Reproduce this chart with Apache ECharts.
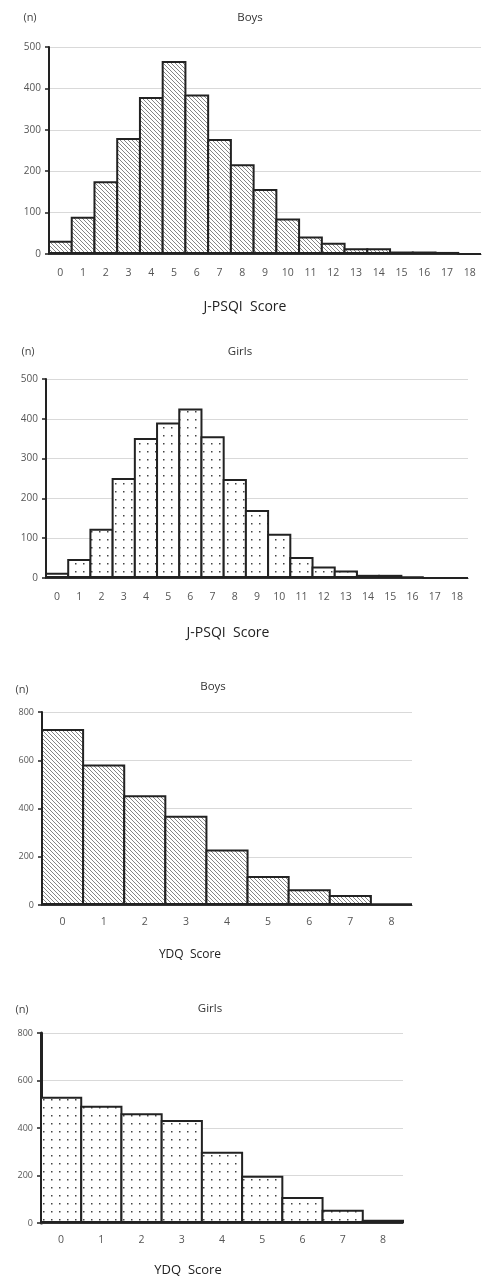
<!DOCTYPE html>
<html style='height: 100%'>
<head>
    <meta charset='utf-8'>
    <script src="https://cdn.jsdelivr.net/npm/echarts@6/dist/echarts.min.js"></script>
</head>
<body style='height: 100%; margin: 0; background: #fff'>
    <div id='container' style='width: 482px; height: 1280px'></div>
    <script type="text/javascript">

// J-PSQI score distribution (0..18)
var psqiScores = ['0','1','2','3','4','5','6','7','8','9','10','11','12','13','14','15','16','17','18'];
var psqiBoys  = [32, 90, 176, 280, 379, 466, 385, 278, 217, 157, 86, 42, 27, 14, 14, 6, 6, 5, 0];
var psqiGirls = [13, 48, 124, 251, 352, 391, 426, 356, 249, 171, 111, 53, 29, 19, 8, 8, 4, 0, 0];

// YDQ score distribution (0..8)
var ydqScores = ['0','1','2','3','4','5','6','7','8'];
var ydqBoys  = [730, 582, 455, 370, 230, 120, 65, 41, 7];
var ydqGirls = [532, 494, 462, 434, 300, 199, 110, 56, 14];

var titles = ['Boys', 'Girls', 'Boys', 'Girls'];
var xNames = ['J-PSQI  Score', 'J-PSQI  Score', 'YDQ  Score', 'YDQ  Score'];

// fill patterns
function hatch() {
    var c = document.createElement('canvas');
    c.width = 4; c.height = 4;
    var g = c.getContext('2d');
    g.fillStyle = '#fff'; g.fillRect(0, 0, 4, 4);
    g.strokeStyle = '#777'; g.lineWidth = 0.9;
    g.beginPath();
    g.moveTo(-1, -1); g.lineTo(5, 5);
    g.moveTo(-1, 3); g.lineTo(1, 5);
    g.moveTo(3, -1); g.lineTo(5, 1);
    g.stroke();
    return c;
}
function dots() {
    var c = document.createElement('canvas');
    c.width = 8; c.height = 8;
    var g = c.getContext('2d');
    g.fillStyle = '#fff'; g.fillRect(0, 0, 8, 8);
    g.fillStyle = '#444';
    g.fillRect(3, 3, 1.5, 1.5);
    return c;
}
var hatchFill = { image: hatch(), repeat: 'repeat' };
var dotFill = { image: dots(), repeat: 'repeat' };

var dom = document.getElementById("container");
var myChart = echarts.init(dom);
var font = '"Open Sans", "Liberation Sans", sans-serif';

var grids = [
    { left: 49, top: 47, width: 432, height: 207 },
    { left: 46, top: 379, width: 422, height: 199 },
    { left: 42, top: 712, width: 370, height: 193 },
    { left: 41, top: 1033, width: 362, height: 190 }
];
var cats = [psqiScores, psqiScores, ydqScores, ydqScores];
var vals = [psqiBoys, psqiGirls, ydqBoys, ydqGirls];
var fills = [hatchFill, dotFill, hatchFill, dotFill];
var yMax = [500, 500, 800, 800];
var yStep = [100, 100, 200, 200];
var yFont = [10, 10, 9, 9];
var axisW = [2, 2, 2, 3];
var labelMargin = [14, 14, 12, 12];
var border = 2;

// text positions [x, y]
var titlePos = [[250, 18], [240, 352], [213, 687], [210, 1009]];
var nPos = [[30, 18], [28, 352], [22, 690], [22, 1010]];
var xNamePos = [[245, 307], [228, 633], [190, 955], [188, 1270]];
var xNameSize = [14, 14, 12, 13];

var xAxes = [], yAxes = [], series = [], graphics = [];
for (var i = 0; i < 4; i++) {
    xAxes.push({
        type: 'category', gridIndex: i, data: cats[i],
        axisLine: { lineStyle: { color: '#333', width: 1 } },
        axisTick: { show: false },
        axisLabel: { interval: 0, margin: labelMargin[i], color: '#555', fontSize: 10.5, fontFamily: font }
    });
    yAxes.push({
        type: 'value', gridIndex: i, min: 0, max: yMax[i], interval: yStep[i],
        axisLine: { show: true, lineStyle: { color: '#222', width: axisW[i] } },
        axisTick: { show: true, length: 4, lineStyle: { color: '#222', width: 1.5 } },
        axisLabel: { margin: 8, color: '#555', fontSize: yFont[i], fontFamily: font },
        splitLine: { lineStyle: { color: '#d9d9d9', width: 1 } }
    });
    // bars slightly wider than the band so that neighbouring borders coincide
    series.push({
        type: 'bar', xAxisIndex: i, yAxisIndex: i, data: vals[i],
        barWidth: grids[i].width / cats[i].length + border,
        barCategoryGap: '0%',
        itemStyle: { color: fills[i], borderColor: '#222', borderWidth: border },
        silent: true
    });
    graphics.push({
        type: 'text', x: titlePos[i][0], y: titlePos[i][1],
        style: { text: titles[i], align: 'center', verticalAlign: 'middle', fontSize: 11.5, fontFamily: font, fill: '#333' }
    });
    graphics.push({
        type: 'text', x: nPos[i][0], y: nPos[i][1],
        style: { text: '(n)', align: 'center', verticalAlign: 'middle', fontSize: 11, fontFamily: font, fill: '#444' }
    });
    graphics.push({
        type: 'text', x: xNamePos[i][0], y: xNamePos[i][1],
        style: { text: xNames[i], align: 'center', verticalAlign: 'middle', fontSize: xNameSize[i], fontFamily: font, fill: '#222' }
    });
}

option = {
    animation: false,
    backgroundColor: '#fff',
    grid: grids,
    xAxis: xAxes,
    yAxis: yAxes,
    series: series,
    graphic: graphics
};

if (option && typeof option === "object") {
    myChart.setOption(option, true);
}
    </script>
</body>
</html>
